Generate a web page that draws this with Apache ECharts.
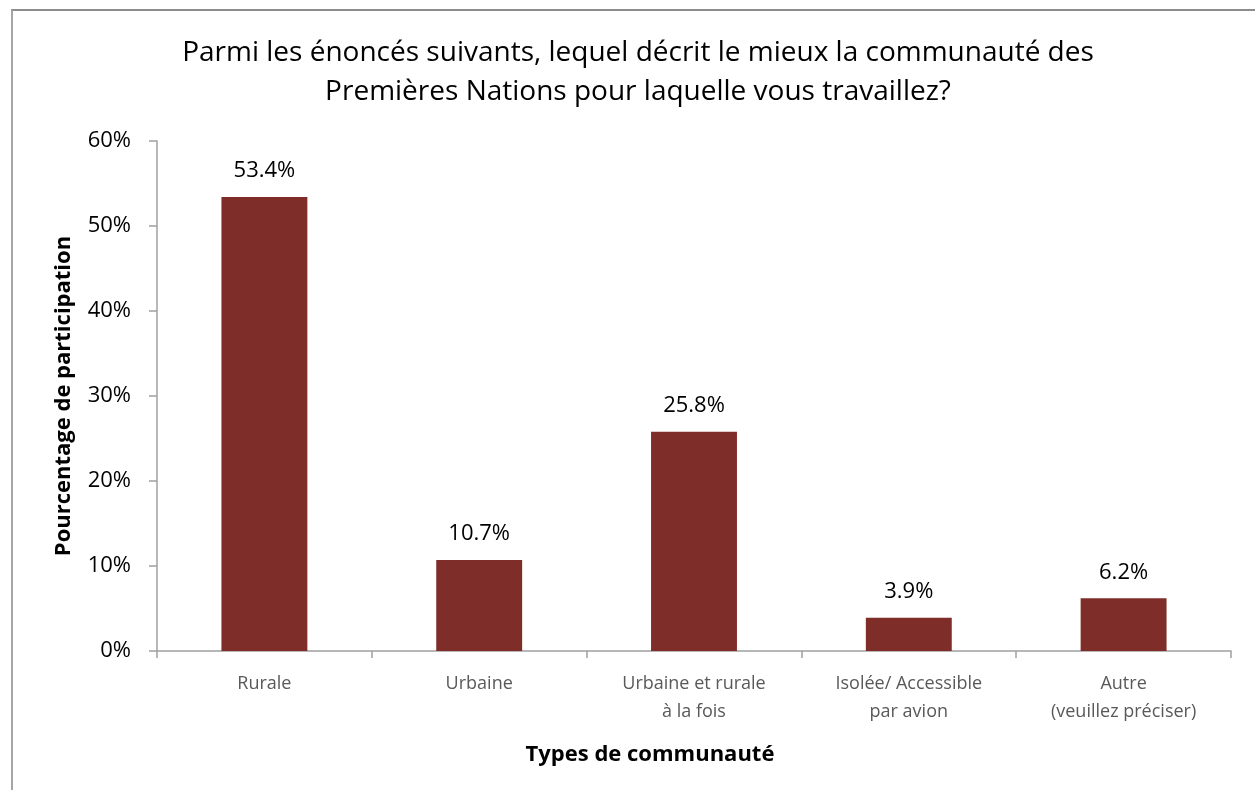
<!DOCTYPE html>
<html>
<head>
<meta charset="utf-8">
<script src="https://cdn.jsdelivr.net/npm/echarts@6/dist/echarts.min.js"></script>
<style>
  body { margin: 0; background: #fff; }
  #frame { position: absolute; left: 11px; top: 9px; width: 1300px; height: 900px;
           border-left: 2px solid #a6a6a6; border-top: 2px solid #8c8c8c; }
  #main { position: absolute; left: 0; top: 0; width: 1255px; height: 790px; }
</style>
</head>
<body>
<div id="frame"></div>
<div id="main"></div>
<script>
// catégories et valeurs (%)
var categories = ['Rurale', 'Urbaine', 'Urbaine et rurale\nà la fois', 'Isolée/ Accessible\npar avion', 'Autre\n(veuillez préciser)'];
var values = [53.4, 10.7, 25.8, 3.9, 6.2];

var font = '"Open Sans", "Liberation Sans", sans-serif';
var chart = echarts.init(document.getElementById('main'));
var option = {
  backgroundColor: 'transparent',
  title: {
    text: 'Parmi les énoncés suivants, lequel décrit le mieux la communauté des\nPremières Nations pour laquelle vous travaillez?',
    left: 633,
    top: 29,
    textAlign: 'center',
    textStyle: { fontFamily: font, fontSize: 28, fontWeight: 'normal', color: '#000', lineHeight: 39 }
  },
  grid: { left: 157, right: 24, top: 141, bottom: 139 },
  xAxis: {
    type: 'category',
    data: categories,
    name: 'Types de communauté',
    nameLocation: 'middle',
    nameGap: 93,
    nameTextStyle: { fontFamily: font, fontSize: 22, fontWeight: 'bold', color: '#000', padding: [0, 88, 0, 0] },
    axisLine: { lineStyle: { color: '#a0a0a0', width: 1.5 } },
    axisTick: { show: true, length: 7, lineStyle: { color: '#a0a0a0', width: 1.5 } },
    axisLabel: { fontFamily: font, fontSize: 18, color: '#595959', margin: 19, lineHeight: 28, interval: 0 }
  },
  yAxis: {
    type: 'value',
    min: 0,
    max: 60,
    interval: 10,
    name: 'Pourcentage de participation',
    nameLocation: 'middle',
    nameGap: 82,
    nameRotate: 90,
    nameTextStyle: { fontFamily: font, fontSize: 22, fontWeight: 'bold', color: '#000' },
    axisLine: { show: true, lineStyle: { color: '#a0a0a0', width: 1.5 } },
    axisTick: { show: true, length: 8, lineStyle: { color: '#a0a0a0', width: 1.5 } },
    splitLine: { show: false },
    axisLabel: { fontFamily: font, fontSize: 22, color: '#000', margin: 26, formatter: '{value}%' }
  },
  series: [{
    type: 'bar',
    data: values,
    barWidth: '40%',
    itemStyle: { color: '#7f2d28' },
    label: {
      show: true,
      position: 'top',
      distance: 15,
      fontFamily: font,
      fontSize: 22,
      color: '#000',
      formatter: function (p) { return p.value.toFixed(1) + '%'; }
    }
  }]
};
chart.setOption(option);
</script>
</body>
</html>
